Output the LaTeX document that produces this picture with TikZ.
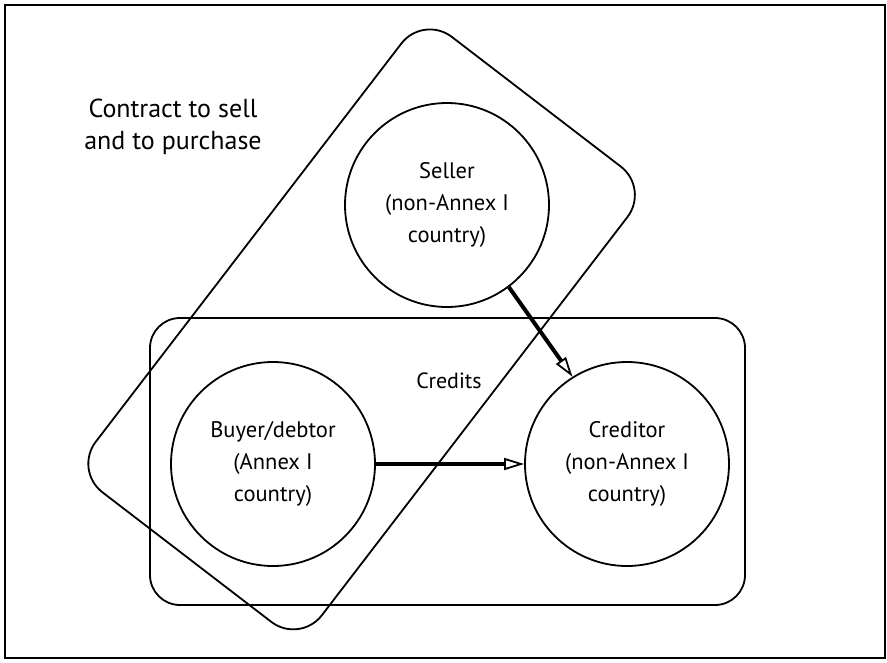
\documentclass[tikz,border=0pt]{standalone}
\usepackage{fontspec}
\setmainfont{PT Sans}
\usetikzlibrary{arrows.meta}
\begin{document}
\begin{tikzpicture}[x=1pt,y=-1pt,
  outline/.style={draw, line width=1.8pt},
  party/.style={circle, draw, line width=1.8pt, minimum size=204pt, inner sep=0pt, align=center, font=\fontsize{22.5}{32}\selectfont},
  flow/.style={line width=4pt, -{Triangle[open, length=20pt, width=12pt, line width=1.8pt]}},
  lbl/.style={align=center, font=\fontsize{22}{32}\selectfont}]
\useasboundingbox (0,0) rectangle (887,662);
\draw[line width=2.8pt] (5,5) rectangle (885,658);
\node[outline, rounded corners=30pt, minimum width=595pt, minimum height=287pt, inner sep=0pt] (creditsbox) at (447.5,461.5) {};
\node[outline, rounded corners=36pt, rotate=-37.5, minimum width=285pt, minimum height=574pt, inner sep=0pt] (contractbox) at (361.6,329.4) {};
\node[party] (seller) at (447,205) {Seller\\(non-Annex I\\country)};
\node[party] (buyer) at (273,464) {Buyer/debtor\\(Annex I\\country)};
\node[party] (creditor) at (627,464) {Creditor\\(non-Annex I\\country)};
\node[lbl] (credits) at (449,381) {Credits};
\node[lbl, font=\fontsize{26}{32}\selectfont] (contract) at (173,127) {Contract to sell\\and to purchase};
\draw[flow] (seller.-53) -- (creditor.122);
\draw[flow] (buyer) -- (creditor);
\end{tikzpicture}
\end{document}
